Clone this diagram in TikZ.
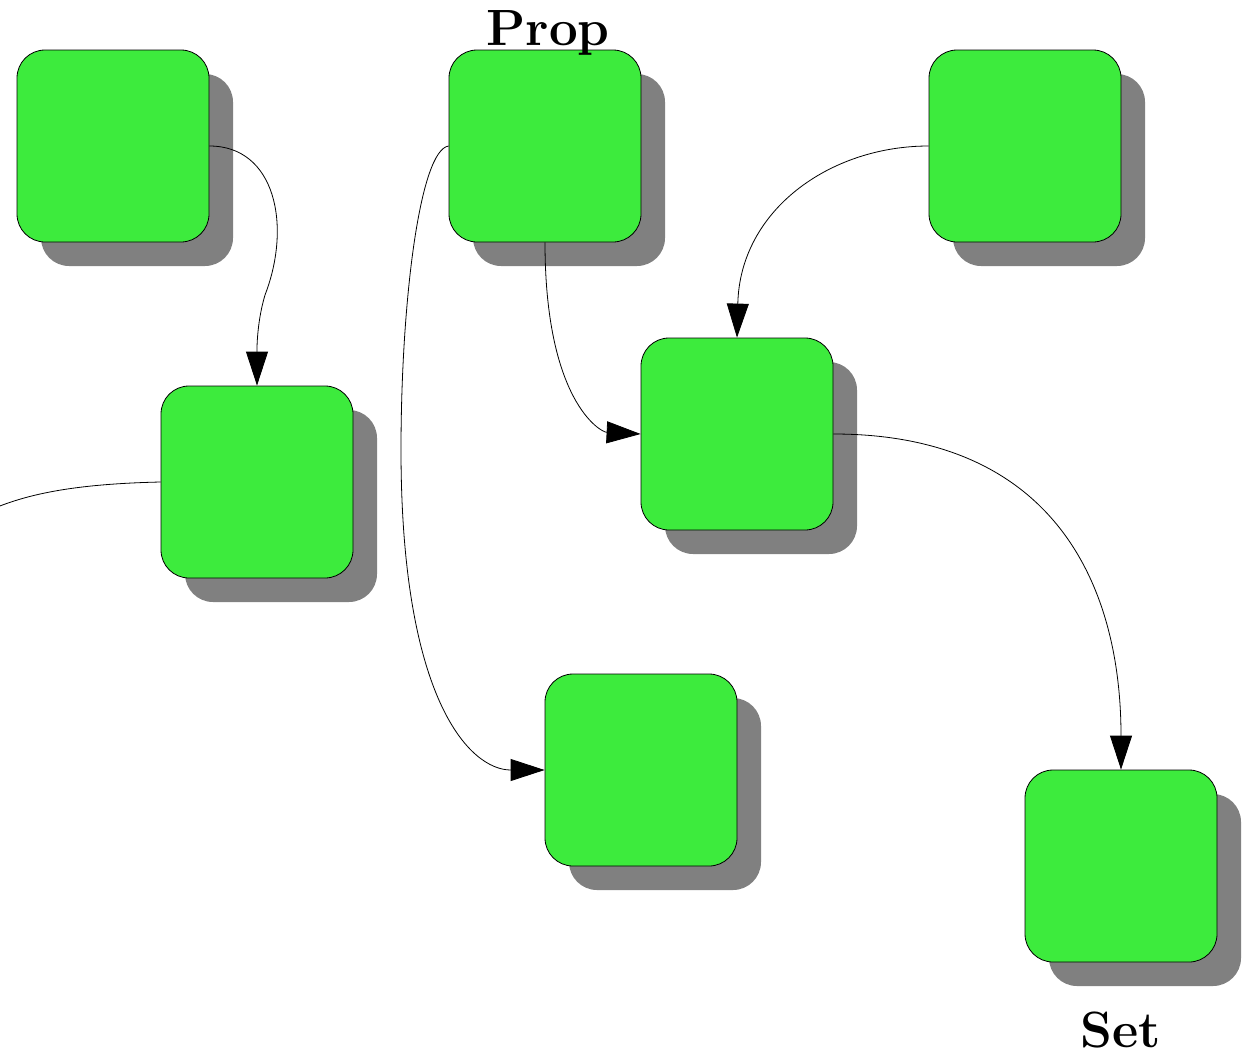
\documentclass[tikz,border=0pt]{standalone}
\usepackage{tikz}
\usetikzlibrary{arrows.meta,shadows}
\definecolor{boxgreen}{RGB}{61,235,61}
\definecolor{shadowgray}{RGB}{128,128,128}

\begin{document}
\begin{tikzpicture}[x=1pt,y=-1pt,
  card/.style={draw=black,line width=0.8pt,fill=boxgreen,rounded corners=28pt,
    minimum size=192pt,inner sep=0pt,
    drop shadow={shadow xshift=24pt,shadow yshift=-24pt,fill=shadowgray,opacity=1}},
  link/.style={draw=black,line width=0.8pt},
  tip/.style={-{Triangle[length=34pt,width=22pt]}},
  title/.style={font=\fontsize{51}{55}\selectfont\bfseries,anchor=base,inner sep=0pt}]
  \useasboundingbox (0,0) rectangle (1244,1055);
  % boxes
  \node[card] (one)   at (113,146) {};
  \node[card] (prop)  at (545,146) {};
  \node[card] (three) at (1025,146) {};
  \node[card] (four)  at (257,482) {};
  \node[card] (five)  at (737,434) {};
  \node[card] (six)   at (641,770) {};
  \node[card] (set)   at (1121,866) {};
  % labels
  \node[title] (proplbl) at (548,45) {Prop};
  \node[title] (setlbl)  at (1121,1047) {Set};
  % links
  \coordinate (offleft) at (-10,510);
  \draw[link,tip] (one.east) .. controls (275,146) and (292,225) .. (265,295)
    .. controls (256,325) and (257,355) .. (four.north);
  \draw[link,tip] (prop.west) .. controls (420,150) and (401,300) .. (401,450)
    .. controls (401,700) and (470,770) .. (six.west);
  \draw[link,tip] (prop.south) .. controls (545,400) and (600,432) .. (five.west);
  \draw[link,tip] (three.west) .. controls (830,146) and (740,210) .. (five.north);
  \draw[link,tip] (five.east) .. controls (1050,434) and (1121,580) .. (set.north);
  \draw[link] (four.west) .. controls (70,484) and (25,495) .. (offleft);
\end{tikzpicture}
\end{document}
